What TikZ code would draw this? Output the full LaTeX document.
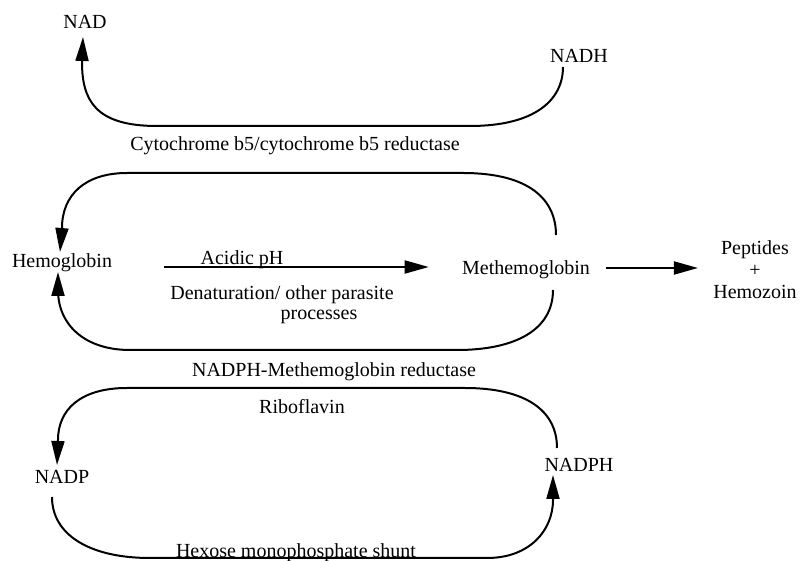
\documentclass[tikz,border=0pt]{standalone}
\usepackage{fontspec}
\setmainfont{Liberation Serif}
\usetikzlibrary{arrows.meta}

\begin{document}
\begin{tikzpicture}[x=0.5pt, y=-0.5pt,
  lbl/.style={inner sep=0pt, anchor=base, font=\fontsize{10}{11}\selectfont},
  arr/.style={-{Triangle[length=12pt,width=6.5pt]}, line width=1pt},
  loop/.style={line width=1pt}]
\useasboundingbox (0,0) rectangle (805,561);

\node[lbl] (nad) at (85,29) {NAD};
\node[lbl] (nadh) at (579,63) {NADH};
\node[lbl] (cyt) at (295,151) {Cytochrome b5/cytochrome b5 reductase};
\node[lbl] (hb) at (62,268) {Hemoglobin};
\node[lbl] (methb) at (526,275) {Methemoglobin};
\node[lbl] (acid) at (242,265) {Acidic pH};
\node[lbl] (denat) at (282,300) {Denaturation/ other parasite};
\node[lbl] (proc) at (319,320) {processes};
\node[lbl, anchor=center, align=center] (pep) at (755,270) {Peptides\\+\\Hemozoin};
\node[lbl] (nadphred) at (334,377) {NADPH-Methemoglobin reductase};
\node[lbl] (ribo) at (302,414) {Riboflavin};
\node[lbl] (nadp) at (62,484) {NADP};
\node[lbl] (nadph) at (579,472) {NADPH};
\node[lbl] (hmp) at (296,558) {Hexose monophosphate shunt};

\draw[arr] ([xshift=-8pt,yshift=-2pt]nadh.base) .. controls (563,100) and (535,126) .. (470,126) -- (157,126)
  .. controls (95,126) and (82,100) .. (82,62) -- ([xshift=-1pt,yshift=-4pt]nad.base);

\draw[arr] ([xshift=15pt,yshift=20pt]methb.base) .. controls (556,200) and (530,173) .. (463,173) -- (127,173)
  .. controls (85,173) and (62,195) .. (62,228) -- ([xshift=-1pt,yshift=8pt]hb.base);
\draw[arr] ([xshift=13.5pt,yshift=-7.5pt]methb.base) .. controls (553,330) and (515,350) .. (457,350) -- (130,350)
  .. controls (85,350) and (58,325) .. (58,290) -- ([xshift=-2pt,yshift=-2pt]hb.base);

\coordinate (hout) at ([xshift=26pt,yshift=0.5pt]hb.base east);
\draw[arr, shorten >=16.5pt] (hout) -- (hout -| methb.base west);
\coordinate (mout) at ([xshift=8pt,yshift=3.5pt]methb.base east);
\draw[arr, shorten >=7.5pt] (mout) -- (mout -| pep.west);

\draw[arr] ([xshift=-11pt,yshift=12pt]nadph.base) .. controls (557,410) and (525,388) .. (465,388) -- (127,388)
  .. controls (80,388) and (58,410) .. (58,440) -- ([xshift=-2.5pt,yshift=9.5pt]nadp.base);
\draw[arr] ([xshift=-5pt,yshift=-6.5pt]nadp.base) .. controls (52,535) and (90,558) .. (150,558) -- (487,558)
  .. controls (530,558) and (553,530) .. (553,500) -- ([xshift=-13pt,yshift=-1.5pt]nadph.base);
\end{tikzpicture}
\end{document}
